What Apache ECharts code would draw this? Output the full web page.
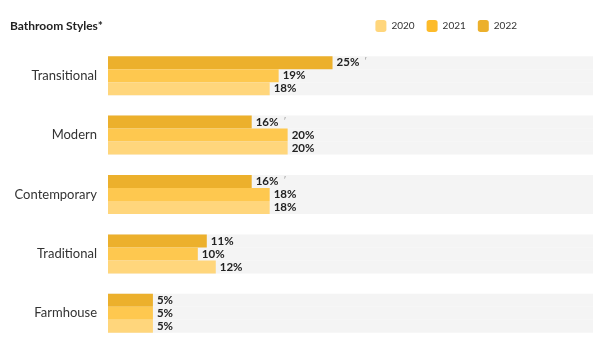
<!DOCTYPE html>
<html><head><meta charset="utf-8">
<script src="https://cdn.jsdelivr.net/npm/echarts@6/dist/echarts.min.js"></script>
<style>html,body{margin:0;padding:0;background:#fff}#c{width:600px;height:346px}</style>
</head><body><div id="c"></div>
<script>
const categories = ['Transitional','Modern','Contemporary','Traditional','Farmhouse'];
const years = ['2020','2021','2022'];
const values2020 = [18,20,18,12,5];
const values2021 = [19,20,18,10,5];
const values2022 = [25,16,16,11,5];
const flags2022 = [true,true,true,false,false];
const colors = {'2020':'#FFD67C','2021':'#FEC84F','2022':'#ECB02C'};
const legendColors = {'2020':'#FFD67C','2021':'#FDBB2A','2022':'#ECB02C'};

const chart = echarts.init(document.getElementById('c'));
function mk(name, vals, flags){
  return {
    name, type:'bar', data: vals, barWidth: 13, barGap: '0%',
    itemStyle:{color: colors[name]},
    showBackground: true,
    backgroundStyle:{color:'#F4F4F4'},
    label:{show:true, position:'right', distance:4,
      formatter: p => (flags && flags[p.dataIndex]) ? '{v|' + p.value + '%}{f|  ′}' : '{v|' + p.value + '%}',
      rich:{v:{fontFamily:'Lato', fontWeight:'bold', fontSize:11.5, color:'#222'},
            f:{fontSize:10, color:'#999'}}}
  };
}
chart.setOption({
  animation:false,
  title:{text:'Bathroom Styles*', left:10, top:20, padding:0,
    textStyle:{fontFamily:'Lato', fontWeight:'bold', fontSize:12, color:'#222'}},
  legend:{right:83, top:20, padding:0, itemWidth:11, itemHeight:12, itemGap:12,
    data: years.map(y=>({name:y, itemStyle:{color:legendColors[y]}})),
    textStyle:{fontFamily:'Lato', fontSize:10, color:'#333'}},
  grid:{left:108, right:7, top:46, bottom:3, containLabel:false},
  xAxis:{type:'value', min:0, max:54, show:false},
  yAxis:{type:'category', data:categories, inverse:true,
    axisLine:{show:false}, axisTick:{show:false},
    axisLabel:{fontFamily:'Lato', fontSize:13, color:'#333', margin:11}},
  series:[mk('2022', values2022, flags2022), mk('2021', values2021), mk('2020', values2020)]
});
</script></body></html>
